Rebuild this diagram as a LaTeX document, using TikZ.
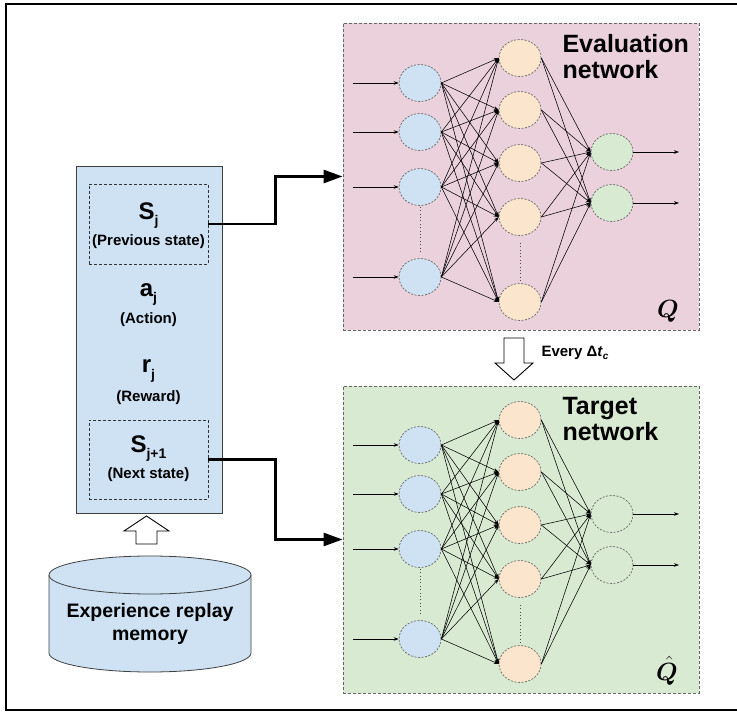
\documentclass[tikz,border=0pt]{standalone}
\usepackage{fontspec}
\usepackage{bm}
\setmainfont{Liberation Sans}
\usetikzlibrary{shapes.geometric,arrows.meta,calc}
\definecolor{lblue}{HTML}{CFE2F3}
\definecolor{lpink}{HTML}{EAD1DC}
\definecolor{lgreen}{HTML}{D9EAD3}
\definecolor{lorange}{HTML}{FCE5CD}
\definecolor{bordergray}{HTML}{666666}
\tikzset{
  neuron/.style={ellipse, draw=bordergray, dash pattern=on 2pt off 1.5pt, line width=0.7pt,
                 minimum width=42pt, minimum height=37pt, inner sep=0pt},
  netedge/.style={line width=0.55pt, -{Stealth[length=5pt,width=3.5pt]}},
  netbox/.style={draw=bordergray, dash pattern=on 3pt off 2pt, line width=0.8pt, inner sep=0pt},
  innerbox/.style={draw=black!80, dash pattern=on 3pt off 2pt, line width=0.6pt, inner sep=0pt,
                   minimum width=119pt},
  bigconn/.style={line width=2.6pt, -{Triangle[length=19pt,width=13pt]}},
  hollow/.style={draw=black, line width=0.9pt, fill=white, line join=miter},
  dotline/.style={line width=0.9pt, dash pattern=on 1pt off 2.4pt, draw=black!70},
  bigsym/.style={font=\fontsize{24}{24}\selectfont\bfseries},
  smalltxt/.style={font=\fontsize{15}{15}\selectfont\bfseries},
  nettitle/.style={anchor=base west, align=left, font=\fontsize{25}{26}\selectfont\bfseries},
}
\newcommand\subj[1]{\raisebox{-6pt}{\fontsize{14}{14}\selectfont\bfseries #1}}
\newcommand\drawnet[3]{%
  \begin{scope}[yshift=#2]
    \foreach \n/\yy in {1/83,2/132,3/187,4/277}{
      \node[neuron, fill=lblue] (#1b\n) at (420,\yy) {};
      \coordinate (#1in\n) at (353,\yy);
      \draw[netedge] (#1in\n) -- (#1b\n.west);
    }
    \foreach \n/\yy in {1/58,2/110,3/163,4/217,5/302}{
      \node[neuron, fill=lorange] (#1o\n) at (520,\yy) {};
    }
    \foreach \n/\yy in {1/152,2/203}{
      \node[neuron, #3] (#1g\n) at (612,\yy) {};
      \coordinate (#1out\n) at (679,\yy);
      \draw[netedge] (#1g\n.east) -- (#1out\n);
    }
    \foreach \a in {1,...,4}{
      \foreach \b in {1,...,5}{
        \draw[netedge] (#1b\a.east) -- (#1o\b.west);
      }
    }
    \foreach \a in {1,...,5}{
      \foreach \b in {1,2}{
        \draw[netedge] (#1o\a.east) -- (#1g\b.west);
      }
    }
    \draw[dotline] ([yshift=-1pt]#1b3.south) -- ([yshift=6pt]#1b4.north);
    \draw[dotline] ([yshift=-7pt]#1o4.south) -- ([yshift=2pt]#1o5.north);
  \end{scope}}
\begin{document}
\begin{tikzpicture}[x=1pt,y=-1pt]
\useasboundingbox (0,0) rectangle (737,714);
\draw[line width=1.6pt] (737,4) -- (6,4) -- (6,710) -- (737,710);

% network boxes
\node[netbox, fill=lpink, minimum width=356pt, minimum height=307pt] (evalbox) at (521,176.5) {};
\node[netbox, fill=lgreen, minimum width=356pt, minimum height=307pt] (targetbox) at (521,539.5) {};

\drawnet{e}{0pt}{fill=lgreen}
\drawnet{t}{-362pt}{fill=none}

\node[nettitle] (evaltxt) at (559,79) {Evaluation\\network};
\node[nettitle] (targettxt) at (559,440) {Target\\network};
\node[font=\fontsize{28}{28}\selectfont, anchor=base] (qlab) at (668,318) {$\bm{Q}$};
\node[font=\fontsize{28}{28}\selectfont, anchor=base, inner sep=0pt] (qhat) at (667,680) {$\bm{\hat{Q}}$};

% left memory box
\node[draw=black!75, line width=0.8pt, fill=lblue, minimum width=146pt, minimum height=347pt, inner sep=0pt] (leftbox) at (149,339.5) {};
\node[innerbox, minimum height=80pt] (sjbox) at (148.5,224) {};
\node[innerbox, minimum height=79pt] (sjnbox) at (148.5,459.5) {};

\node[bigsym, anchor=base] (sj) at (148.5,220) {S\subj{j}};
\node[smalltxt, anchor=base] (prev) at (148.5,246) {(Previous state)};
\node[bigsym, anchor=base] (aj) at (148.5,297) {a\subj{j}};
\node[smalltxt, anchor=base] (act) at (148.5,324) {(Action)};
\node[bigsym, anchor=base] (rj) at (148.5,373) {r\subj{j}};
\node[smalltxt, anchor=base] (rew) at (148.5,401) {(Reward)};
\node[bigsym, anchor=base] (sjn) at (148.5,452) {S\subj{j+1}};
\node[smalltxt, anchor=base] (nxt) at (148.5,478) {(Next state)};

% connectors to networks
\draw[bigconn] (sjbox.east) -- ++(67,0) |- (evalbox.west);
\draw[bigconn] (sjnbox.east) -- ++(67,0) |- (targetbox.west);

% cylinder
\draw[draw=black!75, line width=0.8pt, fill=lblue]
  (49,575) -- (49,653) arc[start angle=180, end angle=0, x radius=101, y radius=19]
  -- (251,575) arc[start angle=0, end angle=-180, x radius=101, y radius=19] -- cycle;
\draw[draw=black!75, line width=0.8pt] (49,575) arc[start angle=180, end angle=0, x radius=101, y radius=19];
\node[font=\fontsize{19.5}{23}\selectfont\bfseries, align=center] (mem) at (150,624) {Experience replay\\memory};

% hollow arrows
\draw[hollow] (146.5,516) -- (169,531) -- (157,531) -- (157,544) -- (136,544) -- (136,531) -- (124,531) -- cycle;
\draw[hollow] (514,380) -- (533,363) -- (524,363) -- (524,338) -- (504,338) -- (504,363) -- (495,363) -- cycle;

\node[anchor=west, font=\fontsize{15}{15}\selectfont\bfseries] (every) at (538,353)
  {Every Δ\textit{t}\raisebox{-3pt}{\fontsize{10}{10}\selectfont\textit{c}}};
\end{tikzpicture}
\end{document}
